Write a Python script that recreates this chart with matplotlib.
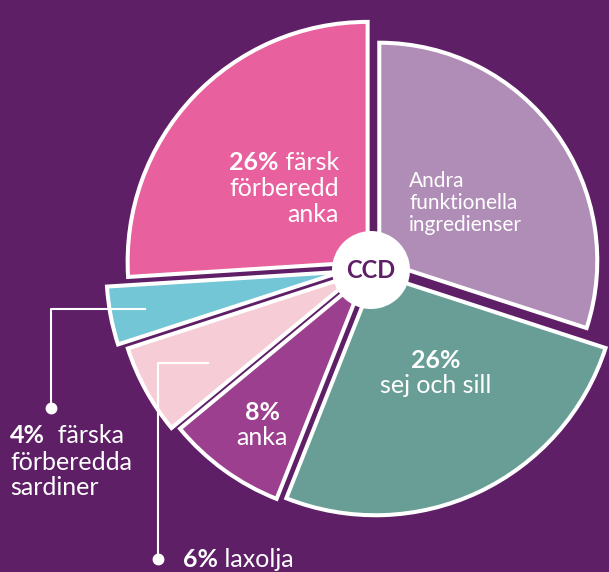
import matplotlib.pyplot as plt
from matplotlib.patches import Wedge, Circle
import numpy as np

plt.rcParams['font.family'] = ['Lato', 'DejaVu Sans']

# data: shares clockwise from 12 o'clock
shares = [30, 26, 8, 6, 4, 26]
names = ['Andra funktionella ingredienser', 'sej och sill', 'anka',
         'laxolja', 'färska förberedda sardiner', 'färsk förberedd anka']
colors = ['#B08DB6', '#699E97', '#9C3F8E', '#F6CDD6', '#73C6D6', '#E8609E']

# styling per slice (pixels)
radii = [218, 242, 240, 242, 235, 240]
explode = [9, 8, 12, 16, 31, 6]

W, H = 609, 572
bg = '#5E1F66'
fig = plt.figure(figsize=(W / 100, H / 100), dpi=100, facecolor=bg)
ax = fig.add_axes([0, 0, 1, 1])
ax.set_xlim(0, W)
ax.set_ylim(0, H)
ax.axis('off')

cx, cy = 372, H - 266
start = 90
for share, col, r, ex in zip(shares, colors, radii, explode):
    sweep = share / sum(shares) * 360
    mid = np.deg2rad(start - sweep / 2)
    c = (cx + ex * np.cos(mid), cy + ex * np.sin(mid))
    ax.add_patch(Wedge(c, r, start - sweep, start, facecolor=col,
                       edgecolor='white', linewidth=2.9, joinstyle='miter'))
    start -= sweep

ax.add_patch(Circle((371, H - 270), 39, facecolor='white', edgecolor='none', zorder=5))
ax.text(371, H - 278, 'CCD', color=bg, fontsize=17, fontweight='bold',
        ha='center', va='baseline', zorder=6)

# leader lines
ax.plot([145, 51, 51], [H - 309, H - 309, H - 408], color='white', lw=1.5, zorder=4)
ax.plot([51], [H - 408], 'o', color='white', ms=7.5, zorder=4)
ax.plot([208, 158, 158], [H - 363, H - 363, H - 559], color='white', lw=1.5, zorder=4)
ax.plot([158], [H - 559], 'o', color='white', ms=7.5, zorder=4)

renderer = fig.canvas.get_renderer()


def runs(x, y, parts, ha='left', size=18):
    # draw a line made of (text, weight) pieces
    items = []
    for s, w in parts:
        t = ax.text(0, H - y, s, color='white', fontsize=size, fontweight=w,
                    ha='left', va='baseline', zorder=7)
        items.append(t)
    widths = [t.get_window_extent(renderer).width for t in items]
    total = sum(widths)
    if ha == 'right':
        x0 = x - total
    elif ha == 'center':
        x0 = x - total / 2
    else:
        x0 = x
    for t, w in zip(items, widths):
        t.set_x(x0)
        x0 += w


runs(339, 170, [('26%', 'bold'), (' färsk', 'normal')], ha='right')
runs(339, 196, [('förberedd', 'normal')], ha='right')
runs(339, 222, [('anka', 'normal')], ha='right')

runs(409, 187, [('Andra', 'normal')], size=15)
runs(409, 209, [('funktionella', 'normal')], size=15)
runs(409, 231, [('ingredienser', 'normal')], size=15)

runs(436, 368, [('26%', 'bold')], ha='center')
runs(436, 393, [('sej och sill', 'normal')], ha='center')

runs(262, 420, [('8%', 'bold')], ha='center')
runs(262, 445, [('anka', 'normal')], ha='center')

runs(10, 443, [('4%', 'bold'), ('  färska', 'normal')])
runs(10, 470, [('förberedda', 'normal')])
runs(10, 495, [('sardiner', 'normal')])

runs(183, 567, [('6%', 'bold'), (' laxolja', 'normal')])

fig.savefig('out.png', dpi=100, facecolor=bg)
